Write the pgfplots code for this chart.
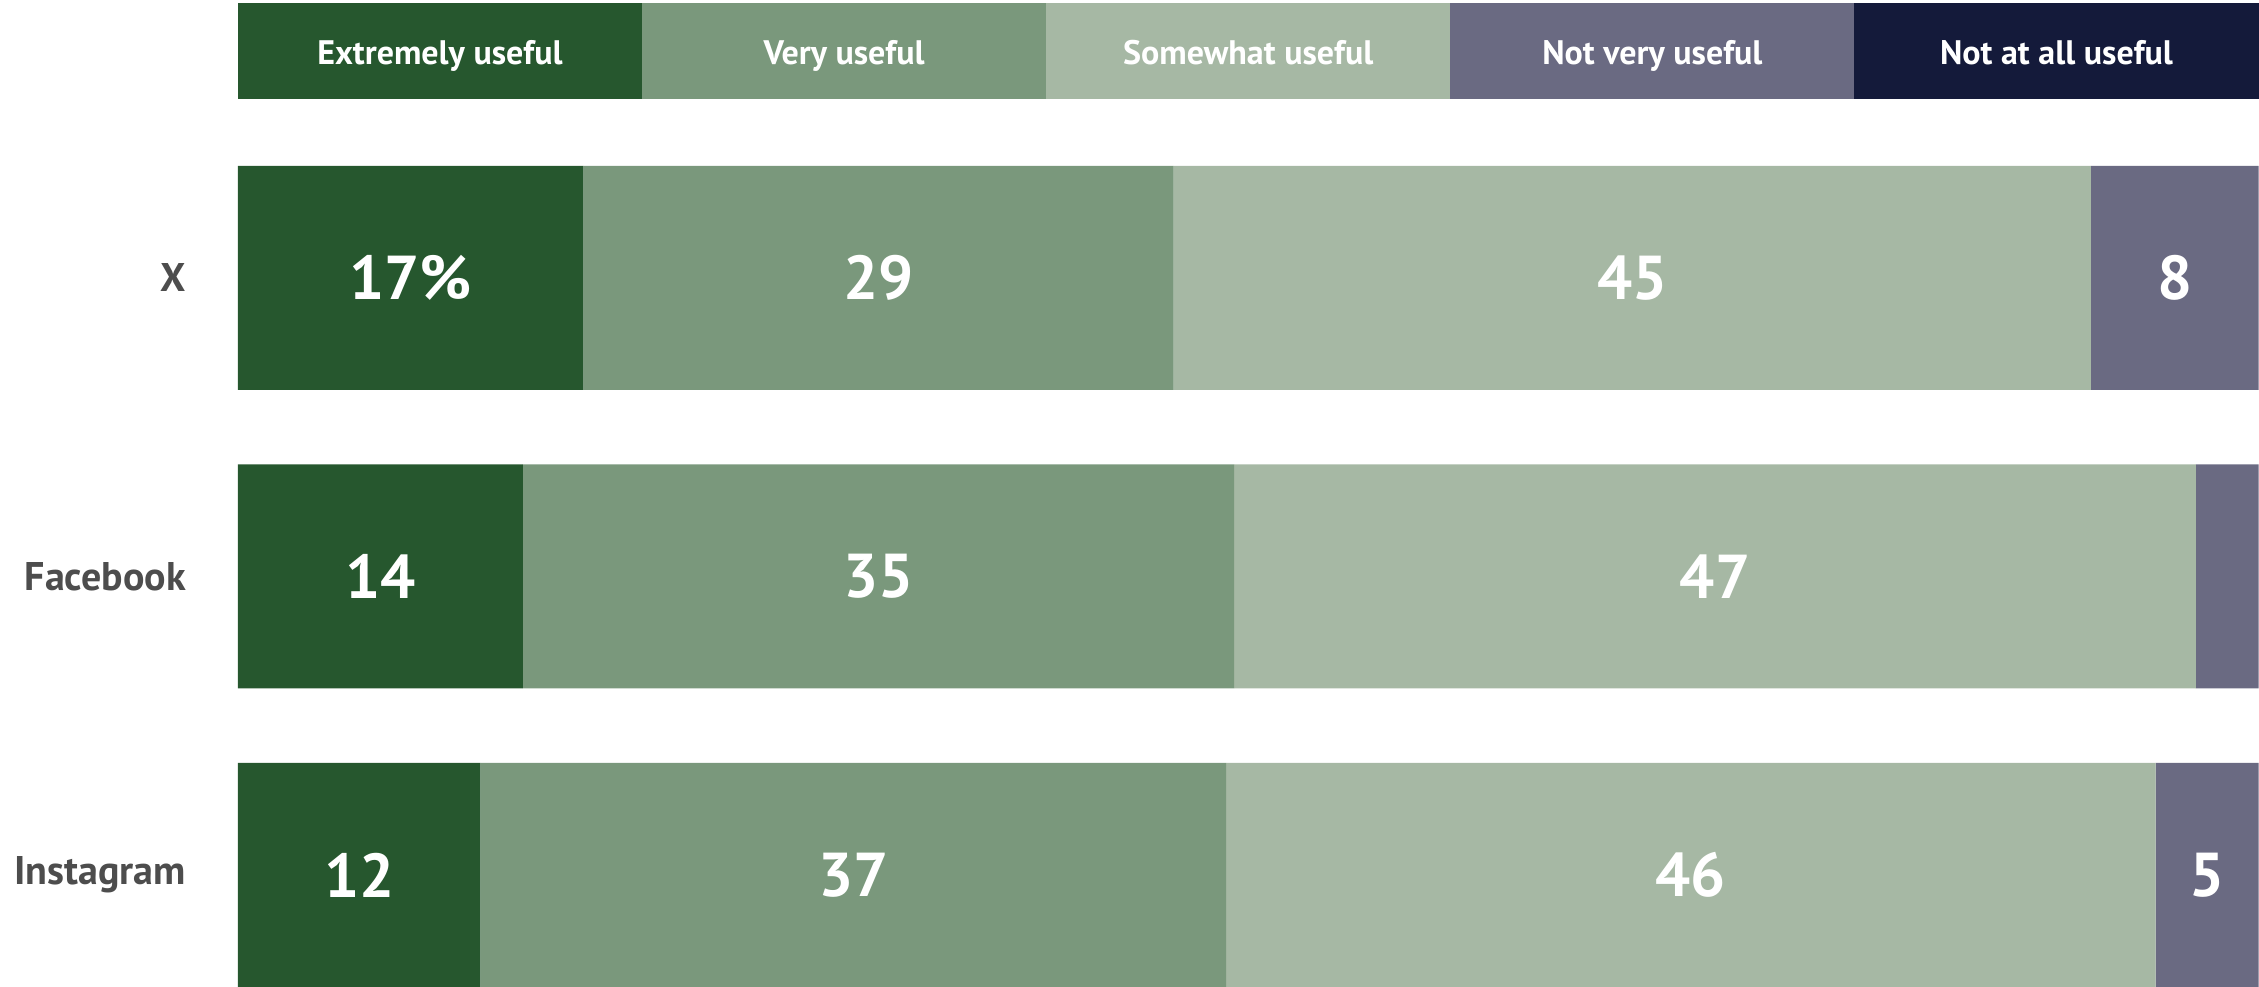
\documentclass[border=0pt]{standalone}
\usepackage{pgfplots}
\usepackage{pgfplotstable}
\pgfplotsset{compat=1.18}
\usepackage{fontspec}
\setmainfont{PT Sans}
\definecolor{c1}{HTML}{26572E}
\definecolor{c2}{HTML}{7A987C}
\definecolor{c3}{HTML}{A6B8A4}
\definecolor{c4}{HTML}{6A6A82}
\definecolor{c5}{HTML}{141A3A}
\definecolor{labelgrey}{HTML}{4D4D4D}
\newcommand{\legfont}{\fontsize{8.5}{10}\selectfont\bfseries}
\newcommand{\valfont}{\fontsize{15.5}{18}\selectfont\bfseries}
\newcommand{\catfont}{\fontsize{10}{12}\selectfont\bfseries}
\pgfplotstableread{
y ext very some notvery notatall
0 12.0 36.9 46.0 5.1 0
1 14.1 35.2 47.6 3.1 0
2 17.1 29.2 45.4 8.3 0
}\usefultable
\begin{document}
\begin{tikzpicture}
\begin{axis}[
  xbar stacked,
  scale only axis,
  width=505.25pt, height=205.25pt,
  xmin=0, xmax=100, ymin=-0.375, ymax=2.375,
  bar width=0.75,
  axis line style={draw=none},
  xtick=\empty,
  ytick={0,1,2},
  yticklabels={Instagram,Facebook,X},
  major tick length=0pt,
  yticklabel style={font=\catfont, text=labelgrey, xshift=-9.5pt},
  clip=false,
]
\addplot[fill=c1, draw=none] table[x=ext,y=y]{\usefultable};
\addplot[fill=c2, draw=none] table[x=very,y=y]{\usefultable};
\addplot[fill=c3, draw=none] table[x=some,y=y]{\usefultable};
\addplot[fill=c4, draw=none] table[x=notvery,y=y]{\usefultable};
\addplot[fill=c5, draw=none] table[x=notatall,y=y]{\usefultable};
\fill[c1] (axis cs:0,2.599) rectangle (axis cs:20,2.921);
\fill[c2] (axis cs:20,2.599) rectangle (axis cs:40,2.921);
\fill[c3] (axis cs:40,2.599) rectangle (axis cs:60,2.921);
\fill[c4] (axis cs:60,2.599) rectangle (axis cs:80,2.921);
\fill[c5] (axis cs:80,2.599) rectangle (axis cs:100,2.921);
\coordinate (L1) at (axis cs:10,2.714);
\coordinate (L2) at (axis cs:30,2.714);
\coordinate (L3) at (axis cs:50,2.714);
\coordinate (L4) at (axis cs:70,2.714);
\coordinate (L5) at (axis cs:90,2.714);
\coordinate (A1) at (axis cs:8.55,2);
\coordinate (A2) at (axis cs:31.7,2);
\coordinate (A3) at (axis cs:69.0,2);
\coordinate (A4) at (axis cs:95.85,2);
\coordinate (B1) at (axis cs:7.05,1);
\coordinate (B2) at (axis cs:31.7,1);
\coordinate (B3) at (axis cs:73.1,1);
\coordinate (C1) at (axis cs:6.0,0);
\coordinate (C2) at (axis cs:30.45,0);
\coordinate (C3) at (axis cs:71.9,0);
\coordinate (C4) at (axis cs:97.45,0);
\end{axis}
\node[text=white, font=\legfont, anchor=base] at (L1) {Extremely useful};
\node[text=white, font=\legfont, anchor=base] at (L2) {Very useful};
\node[text=white, font=\legfont, anchor=base] at (L3) {Somewhat useful};
\node[text=white, font=\legfont, anchor=base] at (L4) {Not very useful};
\node[text=white, font=\legfont, anchor=base] at (L5) {Not at all useful};
\node[text=white, font=\valfont] at (A1) {17\%};
\node[text=white, font=\valfont] at (A2) {29};
\node[text=white, font=\valfont] at (A3) {45};
\node[text=white, font=\valfont] at (A4) {8};
\node[text=white, font=\valfont] at (B1) {14};
\node[text=white, font=\valfont] at (B2) {35};
\node[text=white, font=\valfont] at (B3) {47};
\node[text=white, font=\valfont] at (C1) {12};
\node[text=white, font=\valfont] at (C2) {37};
\node[text=white, font=\valfont] at (C3) {46};
\node[text=white, font=\valfont] at (C4) {5};
\path ([xshift=-59.5pt]current axis.south west) rectangle ([yshift=41.5pt]current axis.north east);
\end{tikzpicture}
\end{document}
